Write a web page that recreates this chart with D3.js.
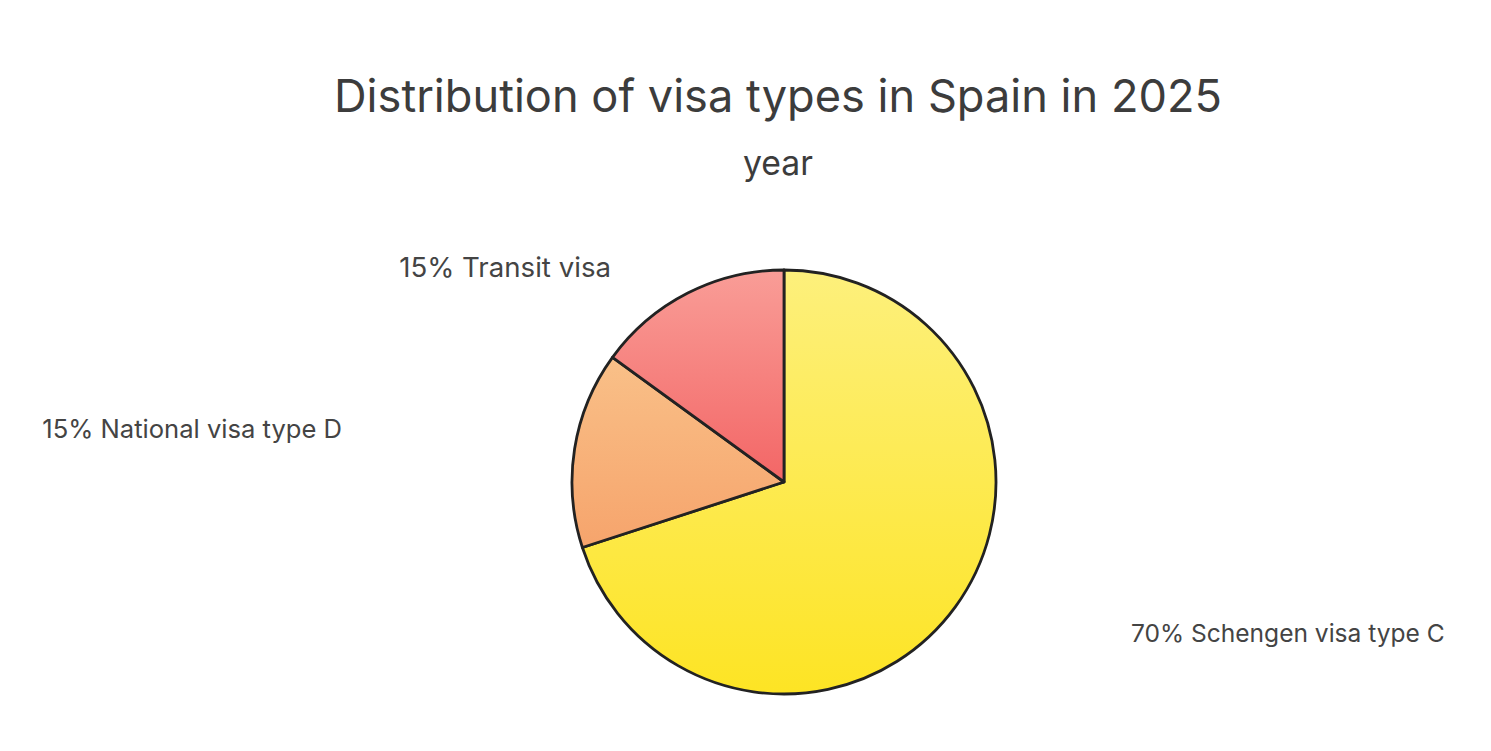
<!DOCTYPE html>
<html><head><meta charset="utf-8">
<script src="https://cdn.jsdelivr.net/npm/d3@7"></script>
<style>body{margin:0;background:#fff;}svg{display:block;font-family:Inter,"Open Sans",sans-serif;}</style>
</head><body>
<svg id="c" width="1491" height="751"></svg>
<script>
const categories = ["Schengen visa type C", "National visa type D", "Transit visa"];
const values = [70, 15, 15];
const labels = ["70% Schengen visa type C", "15% National visa type D", "15% Transit visa"];
const colorsTop = ["#fdf07c", "#f9c088", "#f99d97"];
const colorsBottom = ["#fde424", "#f6a46c", "#f36666"];

const svg = d3.select("#c");
const cx = 784, cy = 482, r = 212;

function fit(sel, w) {
  const fs = +sel.attr("font-size");
  const cur = sel.node().getComputedTextLength();
  sel.attr("font-size", fs * w / cur);
}

const title = svg.append("text").attr("x", 778).attr("y", 112).attr("text-anchor", "middle")
  .attr("font-size", 40).attr("fill", "#3c3c3c").text("Distribution of visa types in Spain in 2025");
fit(title, 888);
const sub = svg.append("text").attr("x", 778).attr("y", 175).attr("text-anchor", "middle")
  .attr("font-size", 26).attr("fill", "#3c3c3c").text("year");
fit(sub, 70);

const defs = svg.append("defs");
const pie = d3.pie().sort(null).value(d => d);
const arc = d3.arc().innerRadius(0).outerRadius(r);
const g = svg.append("g").attr("transform", `translate(${cx},${cy})`);
const arcs = pie(values);
arcs.forEach((a, i) => {
  const ys = [0];
  for (let t = a.startAngle; t <= a.endAngle; t += 0.01) ys.push(-Math.cos(t) * r);
  ys.push(-Math.cos(a.endAngle) * r);
  const gr = defs.append("linearGradient").attr("id", "g" + i)
    .attr("gradientUnits", "userSpaceOnUse")
    .attr("x1", 0).attr("y1", d3.min(ys)).attr("x2", 0).attr("y2", d3.max(ys));
  gr.append("stop").attr("offset", "0%").attr("stop-color", colorsTop[i]);
  gr.append("stop").attr("offset", "100%").attr("stop-color", colorsBottom[i]);
});
g.selectAll("path").data(arcs).join("path")
  .attr("d", arc).attr("fill", (d, i) => `url(#g${i})`)
  .attr("stroke", "#222").attr("stroke-width", 2.8).attr("stroke-linejoin", "round");

const labelPos = [[1131, 642, "start", 314], [342, 438, "end", 300], [611, 277, "end", 212]];
labels.forEach((l, i) => {
  const t = svg.append("text").attr("x", labelPos[i][0]).attr("y", labelPos[i][1])
    .attr("text-anchor", labelPos[i][2]).attr("font-size", 22).attr("fill", "#444").text(l);
  fit(t, labelPos[i][3]);
});
</script>
</body></html>
